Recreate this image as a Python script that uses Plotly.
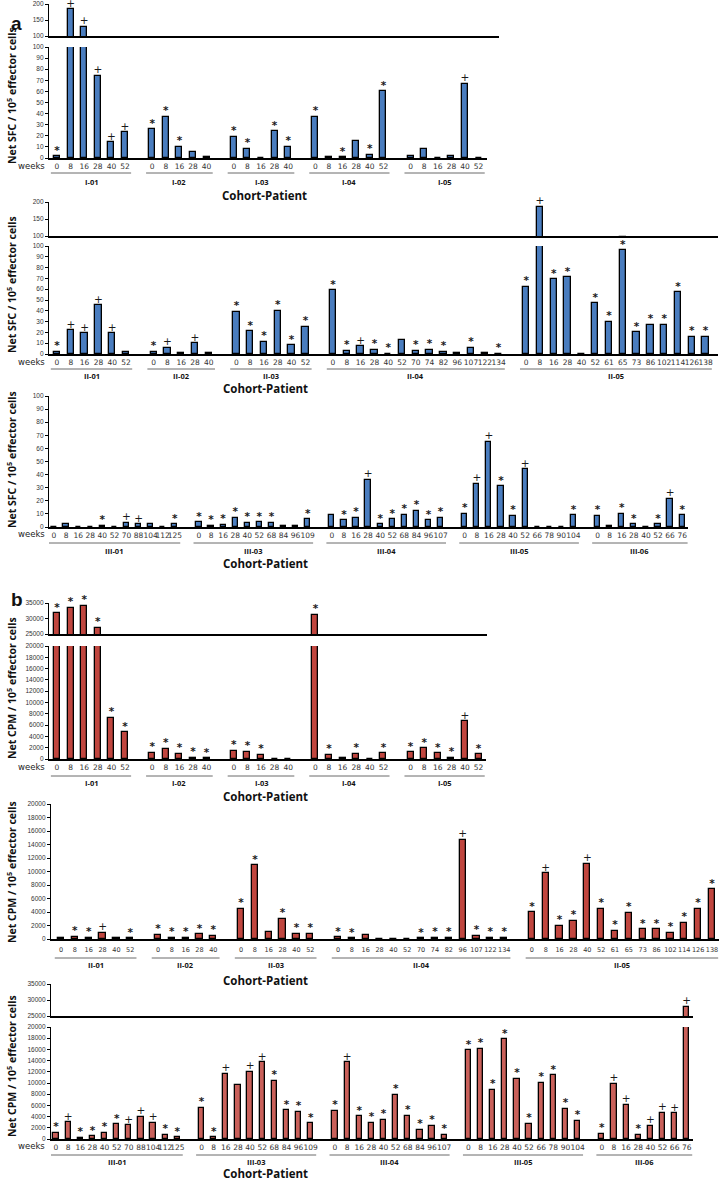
import plotly.graph_objects as go

W, H = 719, 1180

# ---------------- data ----------------
# Panel a, cohort I (Net SFC)
A1_PATIENTS = ["I-01", "I-02", "I-03", "I-04", "I-05"]
A1_WEEKS = [[0, 8, 16, 28, 40, 52], [0, 8, 16, 28, 40], [0, 8, 16, 28, 40],
            [0, 8, 16, 28, 40, 52], [0, 8, 16, 28, 40, 52]]
A1_VALUES = [[1.5, 183, 128, 74, 14, 23], [26, 37, 10, 5, 1], [19, 8, 0, 24, 10],
             [37, 1, 0.5, 15, 3, 60], [2, 8, 0, 2, 67, 0]]
A1_MARKS = [["*", "+", "+", "+", "+", "+"], ["*", "*", "*", "", ""], ["*", "*", "", "*", "*"],
            ["*", "", "*", "", "*", "*"], ["", "", "", "", "+", ""]]

# Panel a, cohort II
A2_PATIENTS = ["II-01", "II-02", "II-03", "II-04", "II-05"]
A2_WEEKS = [[0, 8, 16, 28, 40, 52], [0, 8, 16, 28, 40], [0, 8, 16, 28, 40, 52],
            [0, 8, 16, 28, 40, 52, 70, 74, 82, 96, 107, 122, 134],
            [0, 8, 16, 28, 40, 52, 61, 65, 73, 86, 102, 114, 126, 138]]
A2_VALUES = [[2, 22, 19, 45, 19, 2], [2, 6, 1, 10, 1], [39, 21, 11, 40, 8, 25],
             [59, 3, 7, 4, 0, 13, 3, 4, 2, 1, 6, 0.5, 0],
             [62, 185, 69, 71, 0, 47, 30, 96, 20, 27, 27, 57, 16, 16]]
A2_MARKS = [["*", "+", "+", "+", "+", ""], ["*", "+", "", "+", ""], ["*", "*", "*", "*", "*", "*"],
            ["*", "*", "+", "*", "*", "", "*", "*", "*", "", "*", "", "*"],
            ["*", "+", "*", "*", "", "*", "*", "*", "*", "*", "*", "*", "*", "*"]]

# Panel a, cohort III
A3_PATIENTS = ["III-01", "III-03", "III-04", "III-05", "III-06"]
A3_WEEKS = [[0, 8, 16, 28, 40, 52, 70, 88, 104, 112, 125],
            [0, 8, 16, 28, 40, 52, 68, 84, 96, 109],
            [0, 8, 16, 28, 40, 52, 68, 84, 96, 107],
            [0, 8, 16, 28, 40, 52, 66, 78, 90, 104],
            [0, 8, 16, 28, 40, 52, 66, 76]]
A3_VALUES = [[0, 2, 0, 0, 1, 0, 3, 2, 2, 0, 2],
             [3.5, 1, 1.5, 7, 3, 3.5, 3, 0.5, 0.5, 6],
             [9, 5, 7, 36, 2, 6, 9.5, 12.5, 5, 7],
             [10, 33, 65, 31, 8.5, 44, 0, 0, 0, 9],
             [8.7, 1, 10, 2, 0, 2, 21.6, 9]]
A3_MARKS = [["", "", "", "", "*", "", "+", "+", "", "", "*"],
            ["*", "*", "*", "*", "*", "*", "*", "", "", "*"],
            ["", "*", "*", "+", "*", "*", "*", "*", "*", "*"],
            ["*", "+", "+", "*", "*", "+", "", "", "", "*"],
            ["*", "", "*", "*", "", "*", "+", "*"]]

# Panel b, cohort I (Net CPM)
B1_PATIENTS = A1_PATIENTS
B1_WEEKS = A1_WEEKS
B1_VALUES = [[31700, 33500, 34100, 27000, 7300, 4700], [1100, 1800, 950, 200, 100],
             [1500, 1300, 700, 0, 0], [31100, 700, 200, 900, 0, 1000],
             [1200, 1900, 1000, 250, 6700, 850]]
B1_MARKS = [["*", "*", "*", "*", "*", "*"], ["*", "*", "*", "*", "*"], ["*", "*", "*", "", ""],
            ["*", "*", "", "*", "", "*"], ["*", "*", "*", "*", "+", "*"]]

# Panel b, cohort II
B2_PATIENTS = A2_PATIENTS
B2_WEEKS = A2_WEEKS
B2_VALUES = [[100, 350, 200, 950, 200, 100], [600, 200, 200, 700, 500],
             [4450, 10900, 1000, 3000, 800, 800],
             [250, 100, 650, 0, 0, 0, 100, 200, 200, 14650, 450, 200, 200],
             [3950, 9750, 2000, 2700, 11100, 4450, 1250, 3900, 1450, 1450, 950, 2400, 4450, 7350]]
B2_MARKS = [["", "*", "*", "+", "", "*"], ["*", "*", "*", "*", "*"], ["*", "*", "", "*", "*", "*"],
            ["*", "*", "", "", "", "", "*", "*", "*", "+", "*", "*", "*"],
            ["*", "+", "*", "*", "+", "*", "*", "*", "*", "*", "*", "*", "*", "*"]]

# Panel b, cohort III
B3_PATIENTS = A3_PATIENTS
B3_WEEKS = A3_WEEKS
B3_VALUES = [[1100, 3000, 200, 500, 1100, 2600, 2450, 4000, 2850, 800, 300],
             [5600, 300, 11650, 9600, 12000, 13700, 10400, 5100, 4900, 2800],
             [5000, 13700, 4050, 2900, 3400, 7900, 4100, 1600, 2300, 800],
             [15850, 16150, 8800, 17800, 10800, 2700, 10050, 11350, 5350, 3200],
             [900, 9900, 6100, 700, 2400, 4650, 4600, 27900]]
B3_MARKS = [["*", "+", "*", "*", "*", "*", "+", "+", "+", "*", "*"],
            ["*", "*", "+", "", "+", "+", "*", "*", "*", "*"],
            ["*", "+", "*", "*", "*", "*", "*", "*", "*", "*"],
            ["*", "*", "*", "*", "*", "*", "*", "*", "*", "*"],
            ["*", "+", "+", "*", "+", "+", "+", "+"]]

SFC_TITLE = "<b>Net SFC / 10<sup>5</sup> effector cells</b>"
CPM_TITLE = "<b>Net CPM / 10<sup>5</sup> effector cells</b>"

# ---------------- styling / geometry ----------------
BLUE = "#4a7dbf"
RED = "#c0463f"
RED3 = "#c9605a"


def tick_font():
    return dict(family="Liberation Sans, Arial", size=6.5, color="#333333")


def week_font(size=7.5):
    return dict(family="DejaVu Sans", size=size, color="#333333")


def mark_font():
    return dict(family="DejaVu Sans", size=10.5, color="#1a1a1a")


TITLE_FONT = dict(family="Open Sans, Liberation Sans", size=10.5, color="#111111")
CP_FONT = dict(family="Open Sans, Liberation Sans", size=11.5, color="#111111")
GROUP_FONT = dict(family="Open Sans, Liberation Sans", size=7.5, color="#111111")

fig = go.Figure()
fig.update_layout(template="none")
n_ax = [0]


def add_axes(xd, yd, xr, yr, xkw, ykw):
    n_ax[0] += 1
    sfx = "" if n_ax[0] == 1 else str(n_ax[0])
    fig.update_layout(**{
        "xaxis" + sfx: dict(domain=[xd[0] / W, xd[1] / W], range=xr, anchor="y" + sfx,
                            showgrid=False, zeroline=False, fixedrange=True, automargin=False, **xkw),
        "yaxis" + sfx: dict(domain=[1 - yd[1] / H, 1 - yd[0] / H], range=yr, anchor="x" + sfx,
                            showgrid=False, zeroline=False, fixedrange=True, automargin=False, **ykw),
    })
    return "x" + sfx, "y" + sfx


def ykw(ticks):
    return dict(showline=True, linecolor="black", linewidth=1.3, tickvals=ticks,
                ticktext=[str(t) for t in ticks], ticks="outside", ticklen=3, tickwidth=1,
                tickcolor="black", tickfont=tick_font())


def add_marks(xs, ys, ts, xa, ya):
    shown = ["<b>*</b>" if t == "*" else t for t in ts]
    fig.add_trace(go.Scatter(x=xs, y=ys, text=shown, mode="text", textposition="top center",
                             textfont=mark_font(), marker=dict(color="#1a1a1a"),
                             xaxis=xa, yaxis=ya, cliponaxis=False, hoverinfo="skip",
                             showlegend=False))


def draw_row(patients, weeks, values, marks, g):
    pos, s = [], 0
    for grp in weeks:
        pos.append(list(range(s, s + len(grp))))
        s += len(grp) + 1
    fp = [p for grp in pos for p in grp]
    fv = [v for grp in values for v in grp]
    fm = [m for grp in marks for m in grp]
    fw = [str(w) for grp in weeks for w in grp]
    c0, w = g["c0"], g["w"]
    xr = [(g["L"] - c0) / w, (g["R"] - c0) / w]
    lo_max = g["lo_range"][1]

    xl, yl = add_axes(
        (g["L"], g["R"]), g["lo_dom"], xr, g["lo_range"],
        dict(showline=True, linecolor="black", linewidth=1.6, tickvals=fp, ticktext=fw,
             ticks="outside", ticklen=g["tl"], tickcolor="rgba(0,0,0,0)", tickangle=0,
             tickfont=week_font(g.get("wsize", 7.5))),
        ykw(g["lo_ticks"]))
    bar = dict(width=g["bw"], marker=dict(color=g["color"], line=dict(color="black", width=1.3)),
               hoverinfo="skip", showlegend=False)
    fig.add_trace(go.Bar(x=fp, y=fv, xaxis=xl, yaxis=yl, **bar))
    idx = [i for i in range(len(fv)) if fm[i] and fv[i] <= lo_max]
    add_marks([fp[i] for i in idx], [fv[i] for i in idx], [fm[i] for i in idx], xl, yl)

    if "up_dom" in g:
        xru = [(g["L"] - c0) / w, (g["Rup"] - c0) / w]
        xu, yu = add_axes(
            (g["L"], g["Rup"]), g["up_dom"], xru, g["up_range"],
            dict(showline=True, linecolor="black", linewidth=1.6, showticklabels=False, ticks=""),
            ykw(g["up_ticks"]))
        fig.add_trace(go.Bar(x=fp, y=fv, xaxis=xu, yaxis=yu, **bar))
        idx = [i for i in range(len(fv)) if fm[i] and fv[i] > lo_max]
        add_marks([fp[i] for i in idx], [fv[i] for i in idx], [fm[i] for i in idx], xu, yu)

    # patient groups
    for name, grp in zip(patients, pos):
        fig.add_shape(type="line", xref=xl, yref="paper", x0=grp[0] - 0.45, x1=grp[-1] + 0.45,
                      y0=1 - g["line_y"] / H, y1=1 - g["line_y"] / H,
                      line=dict(color="#6a6a6a", width=1))
        fig.add_annotation(xref=xl, yref="paper", x=(grp[0] + grp[-1]) / 2, y=1 - g["label_y"] / H,
                           text="<b>%s</b>" % name, showarrow=False, font=GROUP_FONT,
                           xanchor="center", yanchor="middle")
    fig.add_annotation(xref="paper", yref="paper", x=g["cp_x"] / W, y=1 - g["cp_y"] / H,
                       text="<b>Cohort-Patient</b>", showarrow=False, font=CP_FONT,
                       xanchor="center", yanchor="middle")
    if g.get("weeks_y"):
        fig.add_annotation(xref="paper", yref="paper", x=31 / W, y=1 - g["weeks_y"] / H,
                           text="weeks", showarrow=False,
                           font=dict(family="DejaVu Sans", size=8.5, color="#222222"),
                           xanchor="center", yanchor="middle")
    fig.add_annotation(xref="paper", yref="paper", x=11 / W, y=1 - g["title_y"] / H,
                       text=g["title"], textangle=-90, showarrow=False, font=TITLE_FONT,
                       xanchor="center", yanchor="middle")


SFC_LO = list(range(0, 101, 10))
CPM_LO = list(range(0, 20001, 2000))

draw_row(A1_PATIENTS, A1_WEEKS, A1_VALUES, A1_MARKS, dict(
    L=49, R=487, Rup=499, c0=57, w=13.6, lo_dom=(47, 158), lo_range=[0, 100], lo_ticks=SFC_LO,
    up_dom=(4, 36), up_range=[100, 200], up_ticks=[100, 150, 200], tl=0,
    line_y=173, label_y=182, cp_x=264, cp_y=195, weeks_y=166, title_y=96,
    title=SFC_TITLE, color=BLUE, bw=0.45))

draw_row(A2_PATIENTS, A2_WEEKS, A2_VALUES, A2_MARKS, dict(
    L=49, R=718, Rup=718, c0=57, w=13.8, lo_dom=(246, 354), lo_range=[0, 100], lo_ticks=SFC_LO,
    up_dom=(202, 236), up_range=[100, 200], up_ticks=[100, 150, 200], tl=0,
    line_y=369, label_y=376, cp_x=265, cp_y=389, weeks_y=362, title_y=285,
    title=SFC_TITLE, color=BLUE, bw=0.45))

draw_row(A3_PATIENTS, A3_WEEKS, A3_VALUES, A3_MARKS, dict(
    L=49, R=688, c0=54, w=12.08, lo_dom=(396, 527), lo_range=[0, 100], lo_ticks=SFC_LO, tl=0,
    line_y=543, label_y=551, cp_x=265, cp_y=563, weeks_y=534, title_y=460,
    title=SFC_TITLE, color=BLUE, bw=0.43))

draw_row(B1_PATIENTS, B1_WEEKS, B1_VALUES, B1_MARKS, dict(
    L=49, R=486, Rup=487, c0=57, w=13.6, lo_dom=(646, 759), lo_range=[0, 20000], lo_ticks=CPM_LO,
    up_dom=(603, 634), up_range=[25000, 35000], up_ticks=[25000, 30000, 35000], tl=0,
    line_y=776, label_y=783, cp_x=265, cp_y=796, weeks_y=767, title_y=688,
    title=CPM_TITLE, color=RED, bw=0.45))

draw_row(B2_PATIENTS, B2_WEEKS, B2_VALUES, B2_MARKS, dict(
    L=51, R=719, c0=61, w=13.85, lo_dom=(804, 939), lo_range=[0, 20000], lo_ticks=CPM_LO, tl=3,
    wsize=6.5, line_y=958, label_y=965, cp_x=265, cp_y=980, weeks_y=None, title_y=872,
    title=CPM_TITLE, color=RED, bw=0.45))

draw_row(B3_PATIENTS, B3_WEEKS, B3_VALUES, B3_MARKS, dict(
    L=51, R=693, Rup=693, c0=56, w=12.13, lo_dom=(1027, 1139), lo_range=[0, 20000], lo_ticks=CPM_LO,
    up_dom=(984, 1016), up_range=[25000, 35000], up_ticks=[25000, 30000, 35000], tl=0,
    line_y=1155, label_y=1162, cp_x=265, cp_y=1173, weeks_y=1146, title_y=1066,
    title=CPM_TITLE, color=RED3, bw=0.43))

# panel letters
fig.add_annotation(xref="paper", yref="paper", x=9 / W, y=1 - 11 / H, text="<b>a</b>",
                   showarrow=False, font=dict(family="Liberation Sans, Arial", size=19, color="#111111"))
fig.add_annotation(xref="paper", yref="paper", x=9 / W, y=1 - 599 / H, text="<b>b</b>",
                   showarrow=False, font=dict(family="Liberation Sans, Arial", size=19, color="#111111"))

fig.update_layout(width=W, height=H, autosize=False, margin=dict(l=0, r=0, t=0, b=0, pad=0),
                  paper_bgcolor="white", plot_bgcolor="white", showlegend=False,
                  bargap=0, barmode="overlay")

fig.write_html("out.html", config={"displayModeBar": False},
               post_script="document.body.style.margin='0';document.body.style.overflow='hidden';")
